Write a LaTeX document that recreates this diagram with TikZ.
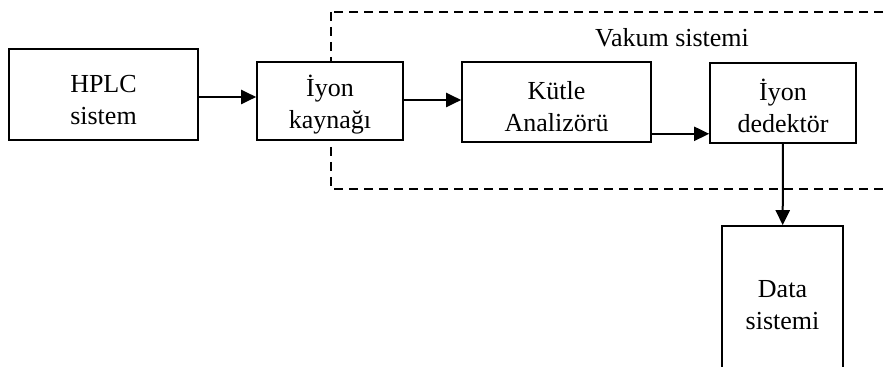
\documentclass[tikz,border=0pt]{standalone}
\usepackage{fontspec}
\setmainfont{Liberation Serif}
\usetikzlibrary{arrows.meta,positioning}

\begin{document}
\begin{tikzpicture}[x=0.5pt,y=-0.5pt,>={Triangle[length=7.5pt,width=7pt]},line width=0.8pt,
    font=\fontsize{13}{16}\selectfont]

    \tikzstyle{block}=[draw=black,fill=white,text=black,align=center,inner sep=0pt,text height=30pt]
    \tikzstyle{vacuum}=[draw=black,dash pattern=on 4.5pt off 3pt]
    \tikzstyle{flow}=[->,line width=1pt]

    \useasboundingbox (0,0) rectangle (888,367);
    \clip (0,0) rectangle (888,367);

    % vakum bolgesi
    \draw[vacuum] (331,12) rectangle (910,189);
    \node (vakum) at (672,38) {Vakum sistemi};

    \node[block,minimum width=94.5pt,minimum height=45.5pt] (hplc) at (103.5,94.5) {HPLC\\sistem};
    \node[block,minimum width=73pt,minimum height=39pt]     (kaynak) at (330,101) {İyon\\kaynağı};
    \node[block,minimum width=94.5pt,minimum height=40pt]   (kutle) at (556.5,102) {Kütle\\Analizörü};
    \node[block,minimum width=73pt,minimum height=40pt]     (dedektor) at (783,103) {İyon\\dedektör};
    \node[block,minimum width=60.5pt,minimum height=74pt]   (data) at (782.5,300) {Data\\sistemi};

    \draw[flow] ([yshift=-1.25pt]hplc.east) -- ([yshift=-1.25pt]hplc.east -| kaynak.west);
    \draw[flow] ([yshift=0.5pt]kaynak.east) -- ([yshift=0.5pt]kaynak.east -| kutle.west);
    \draw[flow] ([yshift=4.5pt]kutle.south east) -- ([yshift=4.5pt]kutle.south east -| dedektor.west);
    \draw[flow] (dedektor) -- (data);
\end{tikzpicture}
\end{document}
